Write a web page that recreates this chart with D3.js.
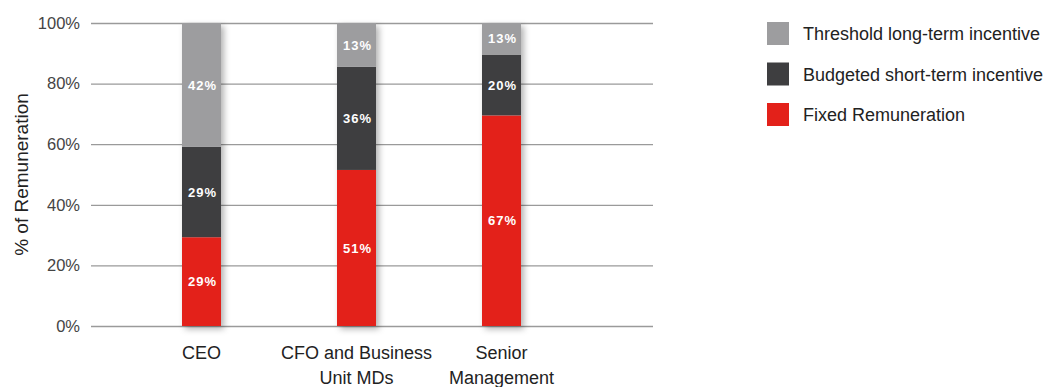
<!DOCTYPE html>
<html lang="en">
<head>
    <meta charset="UTF-8">
    <script type="text/javascript" src="https://d3js.org/d3.v7.min.js"></script>
    <title>Remuneration mix</title>
    <style>
        body { margin: 0; background: #fff; }
        text { font-family: "Liberation Sans", Arial, sans-serif; }
    </style>
</head>
<body>
    <svg id="plot"></svg>
    <script>
        const width = 1059;
        const height = 387;
        const margin = {"top": 23, "bottom": 61, "left": 91, "right": 406};

        // data
        const categories = [["CEO"], ["CFO and Business", "Unit MDs"], ["Senior", "Management"]];
        const seriesNames = ["Fixed Remuneration", "Budgeted short-term incentive", "Threshold long-term incentive"];
        const fixedValues = [29.3, 51.5, 69.5];
        const shortTermValues = [29.8, 34.0, 20.1];
        const longTermValues = [40.9, 14.5, 10.4];
        const fixedLabels = ["29%", "51%", "67%"];
        const shortTermLabels = ["29%", "36%", "20%"];
        const longTermLabels = ["42%", "13%", "13%"];
        const yTicks = [0, 20, 40, 60, 80, 100];
        const colors = ["#e3211a", "#3e3e40", "#9d9d9f"];

        const svg = d3.select("#plot").attr("width", width).attr("height", height);

        const defs = svg.append("defs");
        defs.append("filter").attr("id", "shadow")
            .attr("x", "-30%").attr("y", "-10%").attr("width", "180%").attr("height", "130%")
            .append("feDropShadow")
            .attr("dx", 3).attr("dy", 3).attr("stdDeviation", 3)
            .attr("flood-color", "#000").attr("flood-opacity", 0.3);

        const keys = categories.map(c => c.join(" "));
        const table = keys.map((k, i) => ({
            key: k,
            fixed: fixedValues[i], short: shortTermValues[i], long: longTermValues[i],
            labels: [fixedLabels[i], shortTermLabels[i], longTermLabels[i]]
        }));
        const stack = d3.stack().keys(["fixed", "short", "long"])(table);

        // bars are not evenly spaced in the original
        const x = d3.scaleOrdinal()
            .domain(keys)
            .range([201.5, 356.5, 501.5]);
        const barWidth = 39;

        const y = d3.scaleLinear()
            .domain([0, 100])
            .range([height - margin.bottom, margin.top]);

        // grid + tick labels
        const yAxis = d3.axisLeft(y)
            .tickValues(yTicks)
            .tickFormat(d => d + "%")
            .tickSize(-(width - margin.right - margin.left))
            .tickPadding(11);
        svg.append("g")
            .attr("transform", `translate(${margin.left},0)`)
            .call(yAxis)
            .call(g => g.select(".domain").remove())
            .call(g => g.selectAll(".tick line").attr("stroke", "#9a9a9a").attr("stroke-width", 1.3))
            .call(g => g.selectAll(".tick text").attr("fill", "#444").attr("font-size", 16.5)
                .attr("font-family", "Liberation Sans, Arial, sans-serif"));

        svg.append("text")
            .attr("transform", `translate(28,${(y(0) + y(100)) / 2}) rotate(-90)`)
            .attr("text-anchor", "middle")
            .attr("font-size", 19)
            .attr("fill", "#222")
            .text("% of Remuneration");

        // bars
        const bars = svg.append("g").attr("class", "bars");
        bars.selectAll("rect.shade")
            .data(table)
            .join("rect")
            .attr("class", "shade")
            .attr("x", d => x(d.key) - barWidth / 2)
            .attr("y", y(100))
            .attr("width", barWidth)
            .attr("height", y(0) - y(100))
            .attr("fill", "#fff")
            .attr("filter", "url(#shadow)");

        stack.forEach((layer, li) => {
            bars.append("g")
                .selectAll("rect")
                .data(layer)
                .join("rect")
                .attr("x", d => x(d.data.key) - barWidth / 2)
                .attr("y", d => y(d[1]))
                .attr("width", barWidth)
                .attr("height", d => y(d[0]) - y(d[1]))
                .attr("fill", colors[li]);

            bars.append("g")
                .selectAll("text")
                .data(layer)
                .join("text")
                .attr("x", d => x(d.data.key) + 1)
                .attr("y", d => y((d[0] + d[1]) / 2))
                .attr("dy", "0.36em")
                .attr("text-anchor", "middle")
                .attr("font-family", "DejaVu Sans Condensed, DejaVu Sans, sans-serif")
                .attr("font-weight", "bold")
                .attr("font-size", 13)
                .attr("letter-spacing", 1)
                .attr("fill", "#fff")
                .text(d => d.data.labels[li]);
        });

        // category labels
        svg.append("g")
            .selectAll("text")
            .data(categories)
            .join("text")
            .attr("x", (d, i) => x(keys[i]))
            .attr("y", y(0) + 33)
            .attr("text-anchor", "middle")
            .attr("font-size", 18)
            .attr("fill", "#222")
            .selectAll("tspan")
            .data(d => d)
            .join("tspan")
            .attr("x", function() { return this.parentNode.getAttribute("x"); })
            .attr("dy", (d, i) => i === 0 ? 0 : 25)
            .text(d => d);

        // legend (top entry first)
        const legend = svg.append("g").attr("transform", "translate(767,22)");
        const legendOrder = [2, 1, 0];
        const items = legend.selectAll("g")
            .data(legendOrder)
            .join("g")
            .attr("transform", (d, i) => `translate(0,${i * 40.5})`);
        items.append("rect")
            .attr("width", 22).attr("height", 23)
            .attr("fill", d => colors[d]);
        items.append("text")
            .attr("x", 36).attr("y", 12).attr("dy", "0.35em")
            .attr("font-size", 18).attr("fill", "#222")
            .text(d => seriesNames[d]);
    </script>
</body>
</html>
